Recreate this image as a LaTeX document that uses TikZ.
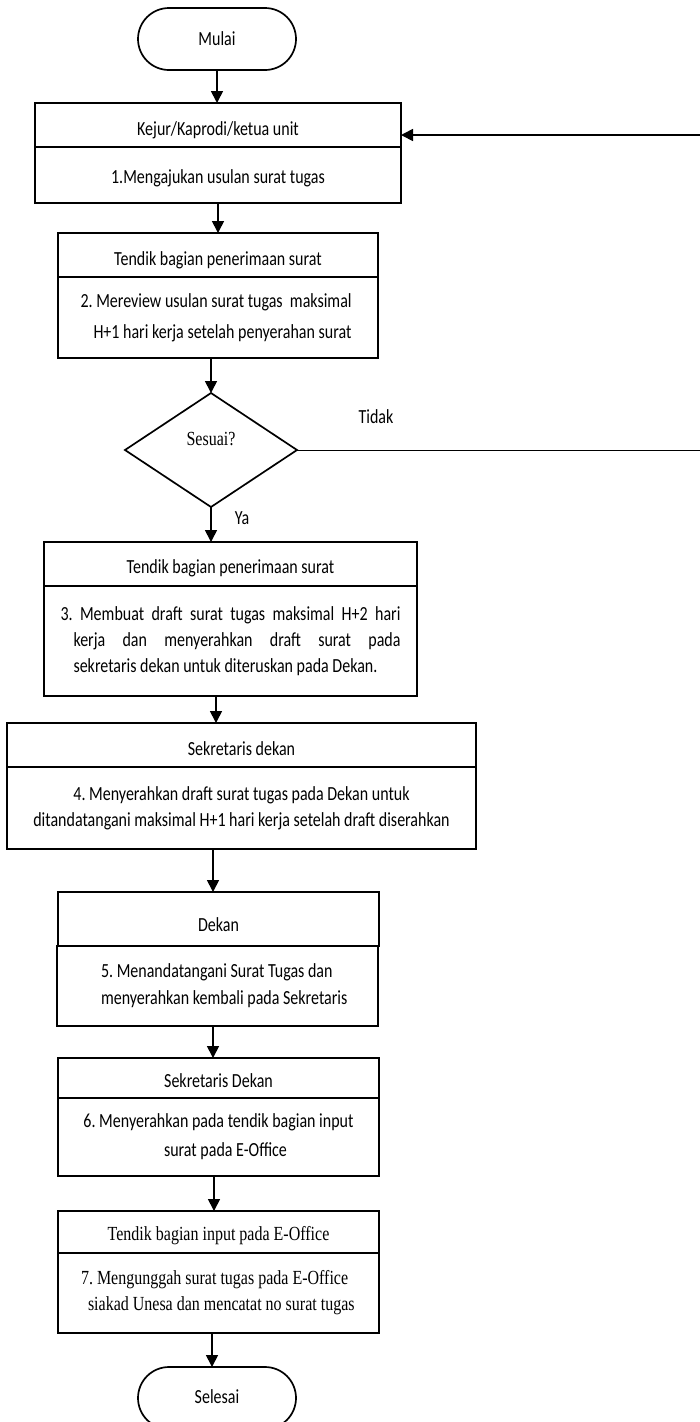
\documentclass[tikz,border=0pt]{standalone}
\usepackage{fontspec}
\setmainfont{Carlito}
\newfontfamily\tnr{Liberation Serif}
\usepackage{graphicx}
\usetikzlibrary{shapes.geometric,shapes.misc,arrows.meta,calc}
\newcommand\vs[1]{\scalebox{1}[1.25]{#1}}
\newcommand\lowr[2]{\raisebox{-#1pt}[0pt][0pt]{\vs{#2}}}
\frenchspacing
\begin{document}
\begin{tikzpicture}[x=1pt,y=-1pt,
  every node/.style={inner sep=0pt, outer sep=0pt},
  box/.style={draw, line width=1.7pt, rectangle, font=\fontsize{16}{20.8}\selectfont},
  term/.style={draw, line width=1.7pt, rounded rectangle, minimum width=158pt, minimum height=62pt, font=\fontsize{16}{20.8}\selectfont},
  dec/.style={draw, line width=1.7pt, diamond, minimum width=172pt, minimum height=114pt, font=\tnr\fontsize{16}{20.8}\selectfont},
  arr/.style={line width=1.7pt, -{Triangle[length=12pt,width=12pt]}},
  thinline/.style={line width=0.9pt},
  lbl/.style={font=\fontsize{16}{20.8}\selectfont}
]
\useasboundingbox (0,0) rectangle (699,1422);

\node[term] (mulai) at (217,39) {\vs{Mulai}};

\node[box, minimum width=366pt, minimum height=44pt] (b1h) at (218,125) {\lowr{10}{Kejur/Kaprodi/ketua unit}};
\node[box, minimum width=366pt, minimum height=56pt] (b1b) at (218,175) {\lowr{8}{1.Mengajukan usulan surat tugas}};

\node[box, minimum width=320pt, minimum height=44pt] (b2h) at (218,255) {\lowr{10}{Tendik bagian penerimaan surat}};
\node[box, minimum width=320pt, minimum height=81pt] (b2b) at (218,317.5) {\vs{\parbox{275pt}{\raggedright\fontsize{16}{24.8}\selectfont 2. Mereview usulan surat tugas\ \ maksimal\\\hspace*{13pt}H+1 hari kerja setelah penyerahan surat}}};

\node[dec] (d) at (211,450) {\raisebox{5pt}[0pt][0pt]{\vs{Sesuai?}}};

\node[box, minimum width=373pt, minimum height=44pt] (b3h) at (230.5,564) {\lowr{9}{Tendik bagian penerimaan surat}};
\node[box, minimum width=373pt, minimum height=110pt] (b3b) at (230.5,641) {\raisebox{3pt}{\vs{\parbox{340pt}{\fontsize{16}{20.8}\selectfont\hangindent=13pt\hangafter=1 3. Membuat draft surat tugas maksimal H+2 hari\linebreak kerja dan menyerahkan draft surat pada\linebreak sekretaris dekan untuk diteruskan pada Dekan.}}}};

\node[box, minimum width=469pt, minimum height=44pt] (b4h) at (241.5,745) {\lowr{10}{Sekretaris dekan}};
\node[box, minimum width=469pt, minimum height=82pt] (b4b) at (241.5,808) {\vs{\parbox{440pt}{\centering\fontsize{16}{20.8}\selectfont 4. Menyerahkan draft surat tugas pada Dekan untuk\\ditandatangani maksimal H+1 hari kerja setelah draft diserahkan}}};

\node[box, minimum width=321pt, minimum height=54pt] (b5h) at (218.5,919) {\lowr{12}{Dekan}};
\node[box, minimum width=321pt, minimum height=80pt] (b5b) at (217.5,986) {\vs{\hspace*{27pt}\parbox{260pt}{\raggedright\fontsize{16}{21.6}\selectfont 5. Menandatangani Surat Tugas dan\\menyerahkan kembali pada Sekretaris}}};

\node[box, minimum width=321pt, minimum height=40pt] (b6h) at (218.5,1078) {\lowr{9}{Sekretaris Dekan}};
\node[box, minimum width=321pt, minimum height=78pt] (b6b) at (218.5,1137) {\vs{\parbox{290pt}{\centering\fontsize{16}{23.2}\selectfont 6. Menyerahkan pada tendik bagian input\\\hspace*{14pt}surat pada E-Office}}};

\node[box, minimum width=321pt, minimum height=42pt] (b7h) at (218.5,1232) {\lowr{8}{\tnr Tendik bagian input pada E-Office}};
\node[box, minimum width=321pt, minimum height=80pt] (b7b) at (218.5,1293) {\vs{\parbox{275pt}{\raggedright\tnr\fontsize{16}{20.8}\selectfont 7. Mengunggah surat tugas pada E-Office\\\hspace*{7pt}siakad Unesa dan mencatat no surat tugas}}};

\node[term] (selesai) at (217,1398) {\lowr{5}{Selesai}};

\node[lbl] (tidak) at (376,417) {\vs{Tidak}};
\node[lbl] (ya) at (242,518) {\vs{Ya}};

% helper x positions
\coordinate (x34) at (216,0);
\coordinate (x45) at (213,0);
\coordinate (x56) at (213,0);
\coordinate (x67) at (214,0);
\coordinate (x78) at (212,0);
\coordinate (fbr) at (703,450);
\coordinate (fbtop) at (703,135);

\draw[arr] (mulai.south) -- (mulai.south |- b1h.north);
\draw[arr] (b1b.south) -- (b2h.north);
\draw[arr] (b2b.south -| d.north) -- (d.north);
\draw[arr] (d.south) -- (d.south |- b3h.north);
\draw[arr] (b3b.south -| x34) -- (b4h.north -| x34);
\draw[arr] (b4b.south -| x45) -- (b5h.north -| x45);
\draw[arr] (b5b.south -| x56) -- (b6h.north -| x56);
\draw[arr] (b6b.south -| x67) -- (b7h.north -| x67);
\draw[arr] (b7b.south -| x78) -- (selesai.north -| x78);

\draw[thinline] (d.east) -- (fbr);
\draw[arr] (fbr) -- (fbtop) -- (fbtop -| b1h.east);
\end{tikzpicture}
\end{document}
